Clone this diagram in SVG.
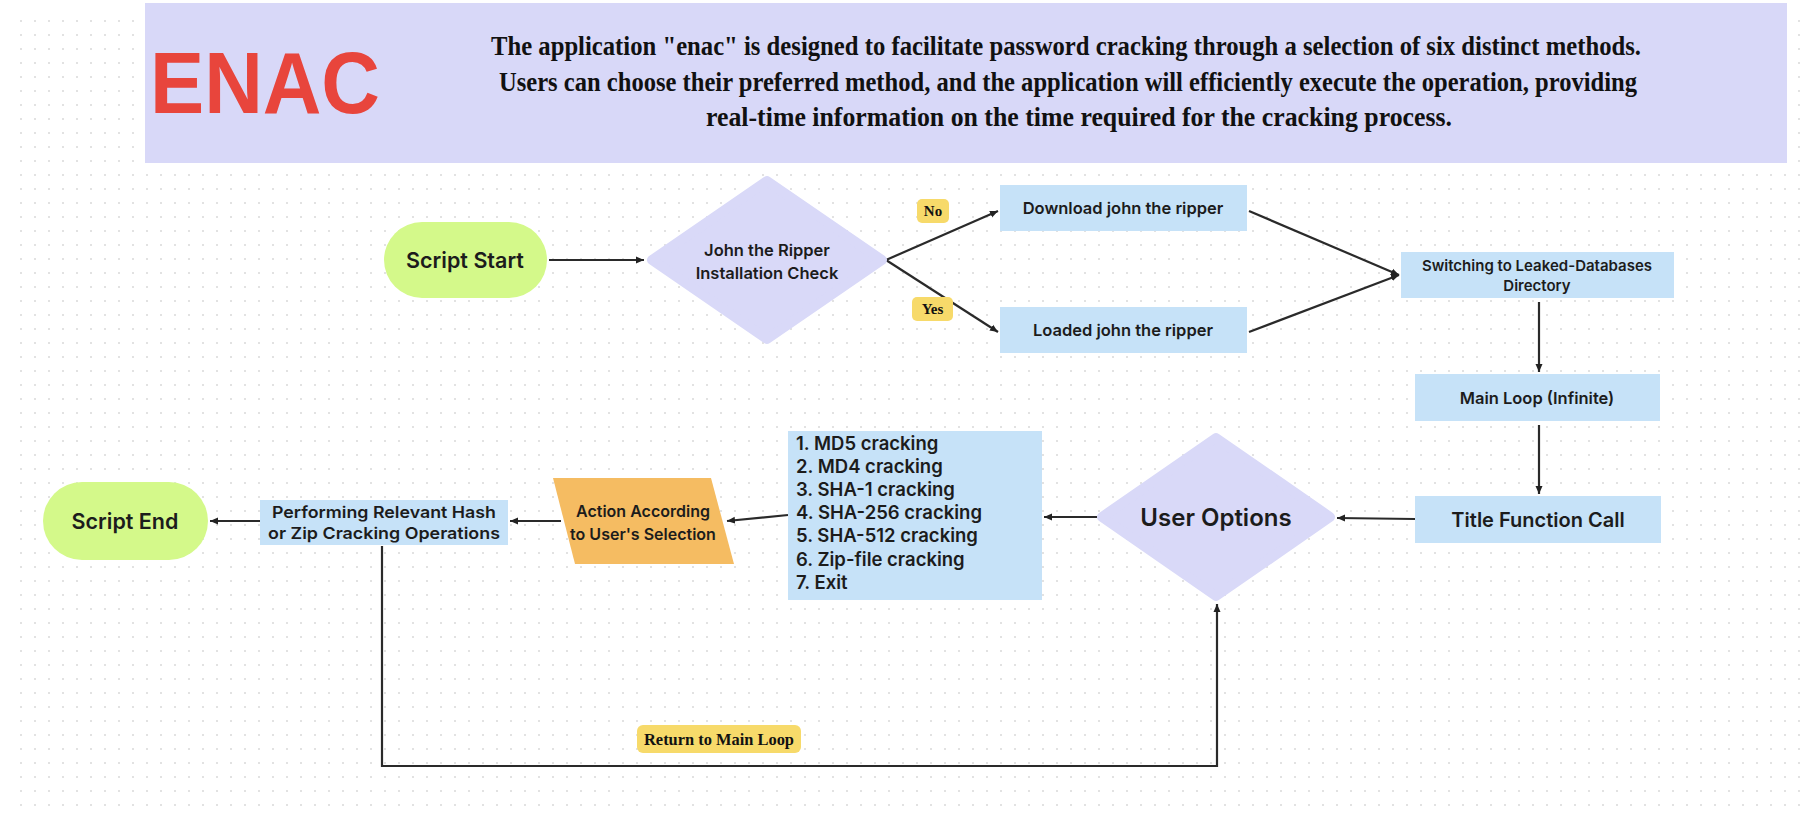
<svg xmlns="http://www.w3.org/2000/svg" width="1810" height="814" viewBox="0 0 1810 814">
<defs>
<pattern id="dots" width="14" height="14" patternUnits="userSpaceOnUse"><circle cx="7" cy="7" r="1" fill="#d9d9d9"/></pattern>
<marker id="arr" markerWidth="9" markerHeight="9" refX="8" refY="4.5" orient="auto" markerUnits="userSpaceOnUse"><path d="M0,1 L8,4.5 L0,8 z" fill="#222"/></marker>
<style>
.conn{fill:none;stroke:#2a2a2a;stroke-width:2.2}
.box{fill:#c6e2f8}
.pill{fill:#d4f98a}
.dia{fill:#d9d9f8;stroke:#d9d9f8;stroke-width:10;stroke-linejoin:round}
.tag{fill:#f7da6a}
.t{font-family:Inter,"Noto Sans",sans-serif;font-weight:600;fill:#1c1c1c;text-anchor:middle}
.ts{font-family:"Liberation Serif",serif;font-weight:bold;fill:#111;text-anchor:middle}
</style>
</defs>
<rect width="1810" height="814" fill="#ffffff"/>
<rect x="10" y="8" width="1795" height="800" fill="url(#dots)"/>
<g id="header">
<rect x="145" y="3" width="1642" height="160" fill="#d8d8f8"/>
<text x="150" y="113" font-family="'Liberation Sans',Arial,sans-serif" font-weight="bold" font-size="88" fill="#e8453c" textLength="230" lengthAdjust="spacingAndGlyphs">ENAC</text>
<text class="ts" x="1066" y="55" font-size="27" textLength="1150" lengthAdjust="spacingAndGlyphs">The application "enac" is designed to facilitate password cracking through a selection of six distinct methods.</text>
<text class="ts" x="1068" y="91" font-size="27" textLength="1138" lengthAdjust="spacingAndGlyphs">Users can choose their preferred method, and the application will efficiently execute the operation, providing</text>
<text class="ts" x="1079" y="126" font-size="27" textLength="746" lengthAdjust="spacingAndGlyphs">real-time information on the time required for the cracking process.</text>
</g>
<g id="connectors">
<line class="conn" x1="549" y1="260" x2="644" y2="260" marker-end="url(#arr)"/>
<line class="conn" x1="886" y1="260" x2="998" y2="211" marker-end="url(#arr)"/>
<line class="conn" x1="886" y1="260" x2="998" y2="332" marker-end="url(#arr)"/>
<line class="conn" x1="1249" y1="211" x2="1399" y2="275" marker-end="url(#arr)"/>
<line class="conn" x1="1249" y1="332" x2="1399" y2="275" marker-end="url(#arr)"/>
<line class="conn" x1="1539" y1="302" x2="1539" y2="372" marker-end="url(#arr)"/>
<line class="conn" x1="1539" y1="425" x2="1539" y2="494" marker-end="url(#arr)"/>
<line class="conn" x1="1415" y1="519" x2="1337" y2="518" marker-end="url(#arr)"/>
<line class="conn" x1="1097" y1="517" x2="1044" y2="517" marker-end="url(#arr)"/>
<line class="conn" x1="788" y1="515" x2="727" y2="521" marker-end="url(#arr)"/>
<line class="conn" x1="561" y1="521" x2="510" y2="521" marker-end="url(#arr)"/>
<line class="conn" x1="260" y1="521" x2="210" y2="521" marker-end="url(#arr)"/>
<polyline class="conn" points="382,546 382,766 1217,766 1217,604" marker-end="url(#arr)"/>
</g>
<g id="script-start">
<rect class="pill" x="384" y="222" width="163" height="76" rx="38"/>
<text class="t" x="465" y="268" font-size="21.5">Script Start</text>
</g>
<g id="jtr-check">
<polygon class="dia" points="767,181 882,260 767,339 652,260"/>
<text class="t" x="767" y="256" font-size="16.5">John the Ripper</text>
<text class="t" x="767" y="279" font-size="16.5">Installation Check</text>
</g>
<g id="label-no">
<rect class="tag" x="917" y="199" width="32" height="24" rx="5"/>
<text class="ts" x="933" y="216" font-size="15">No</text>
</g>
<g id="label-yes">
<rect class="tag" x="912" y="297" width="41" height="24" rx="5"/>
<text class="ts" x="932.5" y="314" font-size="15">Yes</text>
</g>
<g id="download">
<rect class="box" x="1000" y="185" width="247" height="46"/>
<text class="t" x="1123" y="214" font-size="16.5">Download john the ripper</text>
</g>
<g id="loaded">
<rect class="box" x="1000" y="307" width="247" height="46"/>
<text class="t" x="1123" y="336" font-size="16.5">Loaded john the ripper</text>
</g>
<g id="switching">
<rect class="box" x="1401" y="252" width="273" height="46"/>
<text class="t" x="1537" y="271" font-size="15">Switching to Leaked-Databases</text>
<text class="t" x="1537" y="291" font-size="15">Directory</text>
</g>
<g id="main-loop">
<rect class="box" x="1415" y="374" width="245" height="47"/>
<text class="t" x="1537" y="404" font-size="16.5">Main Loop (Infinite)</text>
</g>
<g id="title-call">
<rect class="box" x="1415" y="496" width="246" height="47"/>
<text class="t" x="1538" y="527" font-size="20">Title Function Call</text>
</g>
<g id="user-options">
<polygon class="dia" points="1216,438 1330,517 1216,596 1102,517"/>
<text class="t" x="1216" y="526" font-size="24">User Options</text>
</g>
<g id="options-list">
<rect class="box" x="788" y="431" width="254" height="169"/>
<g font-family="Inter,'Noto Sans',sans-serif" font-weight="600" font-size="18.5" fill="#1c1c1c">
<text x="796" y="450">1. MD5 cracking</text>
<text x="796" y="473">2. MD4 cracking</text>
<text x="796" y="496">3. SHA-1 cracking</text>
<text x="796" y="519">4. SHA-256 cracking</text>
<text x="796" y="542">5. SHA-512 cracking</text>
<text x="796" y="566">6. Zip-file cracking</text>
<text x="796" y="589">7. Exit</text>
</g>
</g>
<g id="action">
<polygon points="553,478 711,478 734,564 575,564" fill="#f5bc62"/>
<text class="t" x="643" y="517" font-size="16">Action According</text>
<text class="t" x="643" y="540" font-size="16">to User's Selection</text>
</g>
<g id="performing">
<rect class="box" x="260" y="500" width="248" height="45"/>
<text class="t" x="384" y="518" font-size="16.5" textLength="224" lengthAdjust="spacingAndGlyphs">Performing Relevant Hash</text>
<text class="t" x="384" y="539" font-size="16.5" textLength="232" lengthAdjust="spacingAndGlyphs">or Zip Cracking Operations</text>
</g>
<g id="script-end">
<rect class="pill" x="43" y="482" width="165" height="78" rx="39"/>
<text class="t" x="125" y="529" font-size="21.5">Script End</text>
</g>
<g id="label-return">
<rect class="tag" x="637" y="725" width="164" height="28" rx="6"/>
<text class="ts" x="719" y="745" font-size="16" textLength="150" lengthAdjust="spacingAndGlyphs">Return to Main Loop</text>
</g>
</svg>
